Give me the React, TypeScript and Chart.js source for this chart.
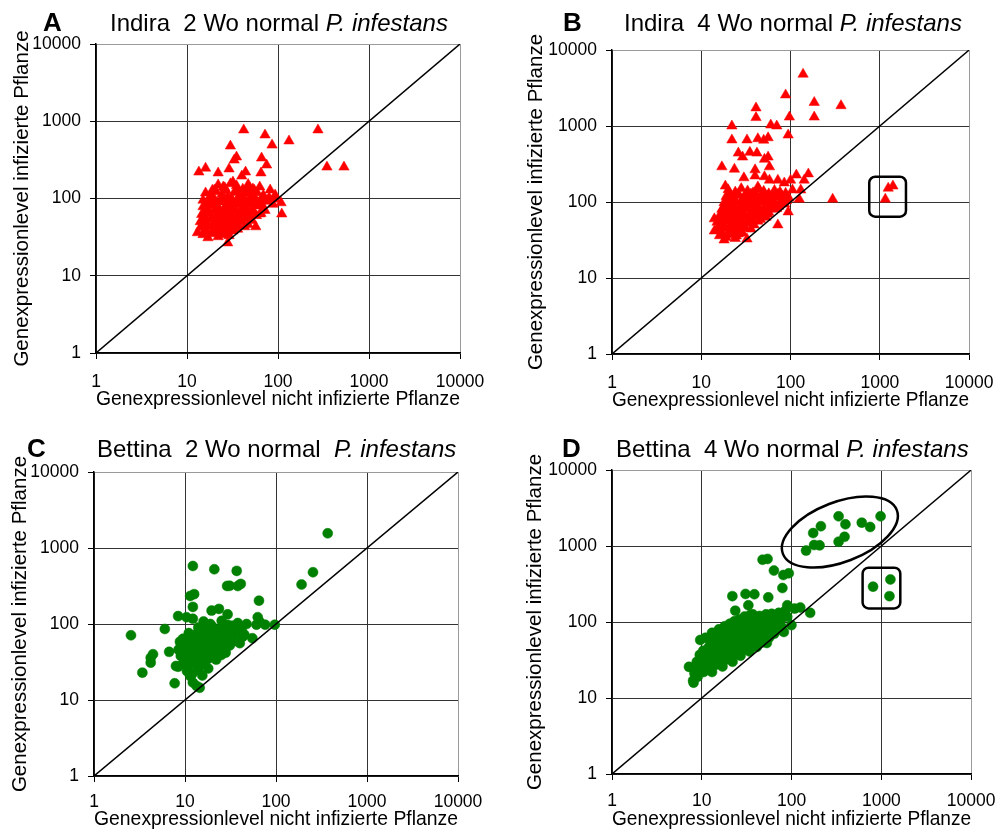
import React, { useEffect, useRef } from 'react';
import { Chart, registerables } from 'chart.js';

Chart.register(...registerables);

const FONT = '"Liberation Sans", Arial, sans-serif';

const tickValues = [1, 10, 100, 1000, 10000];
const xAxisTitle = 'Genexpressionlevel nicht infizierte Pflanze';
const yAxisTitle = 'Genexpressionlevel infizierte Pflanze';
const diagonalValues = [1, 10000];

// Panel A: Indira, 2 Wo
const indira2: [number, number][] = [
  [42, 771], [72, 664], [86, 491], [132, 555], [275, 771], [345, 255], [531, 255], [30, 477],
  [35, 344], [33, 314], [66, 334], [75, 271], [13.5, 220], [16, 247], [22, 214], [29, 241],
  [44, 220], [40, 195], [65, 214], [20, 129], [25, 141], [32, 163], [49, 137], [63, 141],
  [82, 129], [93, 111], [108, 88], [110, 63], [63, 63], [57, 43], [28, 26.6], [13, 36],
  [22, 150], [26, 138], [30, 155], [35, 146], [41, 132], [47, 152], [55, 128],
  [16, 118], [18, 108], [21, 122], [24, 112], [28, 104], [33, 120], [38, 109], [44, 116], [51, 106], [59, 119], [69, 110], [80, 102], [92, 98],
  [15, 95], [17, 88], [20, 98], [23, 90], [26, 96], [30, 86], [35, 93], [40, 99], [46, 89], [54, 94], [63, 87], [74, 92], [88, 84],
  [15, 78], [17, 72], [19, 81], [22, 75], [25, 70], [29, 79], [33, 74], [38, 68], [44, 77], [52, 72], [60, 80], [72, 70],
  [14.5, 62], [16, 57], [18, 65], [21, 59], [24, 64], [27, 55], [31, 61], [36, 58], [42, 63], [49, 56], [58, 60],
  [14, 50], [16, 46], [18, 53], [20, 48], [23, 51], [26, 45], [30, 52], [34, 47], [40, 50], [47, 46],
  [14, 42], [15.5, 38], [17.5, 43], [20, 39], [23, 41], [26, 37], [30, 42], [36, 40],
  [15, 34], [17, 31], [19, 35], [22, 32], [25, 34], [29, 33],
  [19, 128], [27, 126], [36, 130], [45, 124], [53, 133],
  [19, 102], [25, 104], [31, 100], [37, 103], [43, 97], [50, 101], [57, 98], [66, 100], [78, 96],
  [16, 84], [21, 85], [27, 83], [32, 82], [37, 84], [42, 85], [49, 83], [56, 85], [67, 82],
  [15.5, 68], [20, 70], [23, 67], [28, 68], [34, 66], [39, 71], [46, 67], [54, 66], [65, 64],
  [15, 55], [19, 56], [22, 54], [25, 57], [29, 56], [33, 54], [38, 53], [44, 55], [52, 52],
  [15, 46], [19, 44], [21, 45], [25, 47], [28, 44], [32, 45], [37, 44], [43, 43],
  [16, 40], [19, 37], [22, 36], [24, 38], [28, 37], [32, 38],
];

// Panel B: Indira, 4 Wo
const indira4: [number, number][] = [
  [138, 4800], [88, 2560], [184, 2040], [367, 1850], [184, 1310], [97, 1310], [41, 1730], [41, 1290],
  [60, 1030], [70, 1000], [22, 1000], [94, 760], [22, 655], [32.5, 655], [43, 680], [50, 650], [56, 700],
  [26, 440], [29, 390], [35, 450], [42, 440], [56, 390], [51, 365], [58, 290], [17, 290], [23.5, 270],
  [40, 265], [40, 220], [30, 208], [51, 215], [18.6, 162], [43, 158], [58, 194], [72, 194], [85, 178],
  [100, 194], [116, 226], [158, 234], [142, 194], [105, 144], [130, 144], [296, 109],
  [1150, 109], [1240, 152], [1400, 162],
  [14, 60], [14, 41.5], [18, 31.6], [24.7, 35.7], [32.5, 32.6], [72, 50], [94, 74], [125, 109],
  [20, 145], [24, 135], [28, 150], [33, 140], [38, 132], [44, 148], [50, 138], [57, 128], [66, 142], [76, 135], [88, 130],
  [19, 118], [22, 110], [26, 122], [30, 112], [35, 118], [40, 108], [46, 120], [53, 112], [61, 105], [70, 116], [82, 110], [96, 112],
  [18, 98], [21, 92], [24, 100], [28, 94], [32, 88], [37, 97], [42, 91], [48, 99], [55, 90], [63, 96], [74, 88], [86, 94],
  [17, 80], [19, 74], [22, 82], [25, 76], [29, 72], [33, 80], [38, 75], [43, 70], [49, 78], [57, 73], [66, 80],
  [16, 66], [18, 61], [21, 68], [24, 62], [27, 58], [31, 65], [35, 60], [40, 64], [46, 59], [53, 63],
  [15, 54], [17, 50], [20, 55], [23, 49], [26, 53], [30, 48], [34, 52], [39, 50],
  [15, 44], [17, 40], [19, 45], [22, 41], [25, 43], [29, 39],
  [16, 36], [19, 34], [21, 37], [24, 33],
  [21, 126], [26, 128], [31, 124], [36, 127], [42, 122], [48, 126], [55, 120], [63, 124], [72, 126], [80, 121],
  [20, 104], [24, 106], [28, 102], [33, 104], [38, 100], [44, 103], [50, 105], [57, 101], [66, 100], [77, 102], [90, 104],
  [18, 86], [20, 84], [23, 87], [27, 85], [31, 82], [35, 86], [40, 84], [45, 82], [52, 86], [60, 84], [70, 82],
  [17, 70], [20, 71], [23, 68], [26, 70], [30, 68], [35, 70], [41, 72], [47, 68], [55, 69],
  [16, 58], [19, 57], [22, 58], [25, 56], [28, 59], [33, 57], [37, 55], [43, 56],
  [16, 48], [18, 46], [21, 47], [24, 46], [27, 45], [31, 45], [36, 44],
  [17, 37], [20, 39], [23, 38], [26, 38],
];

// Panel C: Bettina, 2 Wo
const bettina2: [number, number][] = [
  [370, 1560], [255, 480], [191, 331], [12.2, 580], [21, 525], [37, 500], [29, 317], [31, 318],
  [41, 337], [38, 316], [11.4, 234], [12.6, 247], [12.2, 168], [65, 203], [19.6, 150], [23.6, 158],
  [29.4, 134], [8.4, 127], [10.4, 123], [12.2, 117], [63, 123], [66, 107], [38, 103], [47.5, 100],
  [61, 98], [76, 98], [97, 98], [43, 68], [55, 65], [6.0, 86], [2.55, 71], [6.7, 43], [4.45, 40],
  [4.2, 36], [4.2, 31], [3.4, 22.9], [7.7, 16.6], [13.4, 15.3], [8.4, 27.4], [14.5, 14.5],
  [25.3, 110], [29.6, 97], [17.3, 92], [8.8, 58.6], [7.95, 28], [11.4, 20.7], [12.2, 17],
  [14, 90], [17, 86], [20, 92], [23, 84], [27, 89], [31, 85], [36, 88], [42, 82],
  [11, 76], [13, 72], [15, 78], [18, 74], [21, 70], [24, 77], [28, 73], [32, 69], [37, 75], [45, 72],
  [9.5, 64], [11, 60], [13, 66], [15, 62], [17, 58], [20, 65], [23, 61], [26, 57], [30, 63], [34, 59], [40, 56],
  [9, 55], [10.5, 51], [12, 56], [14, 52], [16, 49], [18, 55], [21, 50], [24, 54], [27, 48], [31, 52],
  [8.5, 46], [10, 42], [11.5, 47], [13, 43], [15, 40], [17, 45], [19, 41], [22, 44], [25, 39], [28, 42],
  [9, 38], [10.5, 35], [12, 39], [13.5, 34], [15, 37], [17, 33], [19, 36], [22, 34],
  [9.5, 30], [11, 28], [12.5, 31], [14, 27], [16, 30], [18, 26],
  [10.5, 24], [12, 22], [14, 25], [15.5, 21],
  [19, 100], [16, 108], [33, 95],
];

// Panel D: Bettina, 4 Wo
const bettina4: [number, number][] = [
  [334, 2460], [212, 1820], [174, 1480], [398, 1930], [389, 1320], [334, 1140], [605, 2030], [750, 1780],
  [980, 2460], [145, 870], [178, 1030], [205, 1020],
  [808, 292], [1260, 363], [1230, 219],
  [47.5, 660], [54, 676], [63.6, 475], [81, 415], [93, 437], [79, 280], [21.9, 219], [30.7, 234],
  [38.5, 232], [55, 211], [33, 166], [89.5, 166], [125, 155], [161, 132], [23.6, 141], [37, 126],
  [79, 124], [89.5, 117], [99.6, 91], [82, 74], [53, 53], [9.6, 58], [8.1, 15.9], [7.2, 25.7],
  [8, 17], [8.3, 21], [7.8, 25],
  [9, 19], [9.3, 24], [8.8, 30], [9.5, 37],
  [10.5, 22], [10.2, 27], [10.8, 33], [10.4, 42],
  [12, 24], [11.7, 30], [12.3, 37], [12, 47], [12.5, 57],
  [14, 27], [13.6, 34], [14.3, 41], [13.9, 51], [14.4, 63],
  [16, 30], [16.4, 37], [15.8, 45], [16.2, 56], [16.6, 69],
  [18.5, 32], [18.2, 40], [18.9, 49], [18.4, 61], [19, 75],
  [21, 35], [21.5, 44], [20.7, 54], [21.3, 67], [21.8, 81],
  [24, 38], [24.6, 47], [23.6, 59], [24.3, 73], [24.8, 88],
  [28, 42], [27.4, 52], [28.5, 64], [28, 79], [28.8, 95],
  [32, 46], [32.7, 56], [31.5, 69], [32.2, 85], [33, 102],
  [37, 50], [36.3, 61], [37.6, 75], [36.8, 93], [37.4, 110],
  [43, 55], [42.2, 67], [43.8, 83], [42.6, 101],
  [50, 60], [49, 74], [51, 91], [50.5, 111],
  [58, 67], [57, 83], [59, 103],
  [67, 76], [66, 93], [68, 115],
  [77, 87], [76, 107],
  [13, 22], [17, 26], [22, 30], [27, 36], [34, 41], [41, 47], [48, 54], [56, 62], [64, 70],
  [11, 62], [13, 72], [15.5, 80], [18, 88], [20.5, 95], [23, 102], [26, 108], [30, 118], [35, 125],
  [44, 120], [52, 126], [60, 128], [72, 132], [85, 140], [108, 150],
];

// Annotations (data coordinates)
const indira4Boxes = [{ x0: 760, x1: 1960, y0: 64, y1: 215 }];
const bettina4Boxes = [{ x0: 618, x1: 1625, y0: 151, y1: 518 }];
const bettina4Ellipses = [{ cx: 345, cy: 1528 }];

type PanelCfg = {
  key: string;
  letter: string;
  titleMain: string;
  titleItalic: string;
  data: [number, number][];
  marker: 'triangle' | 'circle';
  color: string;
  boxes: { x0: number; x1: number; y0: number; y1: number }[];
  ellipses: { cx: number; cy: number }[];
  left: number; top: number; width: number; height: number;
  pad: { top: number; left: number; right: number; bottom: number };
  yAxisW: number; xAxisH: number; yTitlePad: number; xTickPad: number; xTitlePad: number;
  letterX: number; titleX: number; baseline: number;
};

const shapesPlugin = {
  id: 'shapes',
  afterDatasetsDraw(chart: any, _args: any, opts: any) {
    const { ctx } = chart;
    const xs = chart.scales.x;
    const ys = chart.scales.y;
    ctx.save();
    ctx.strokeStyle = '#000';
    ctx.lineWidth = 2.5;
    (opts.boxes || []).forEach((b: any) => {
      const l = xs.getPixelForValue(b.x0);
      const r = xs.getPixelForValue(b.x1);
      const t = ys.getPixelForValue(b.y1);
      const bt = ys.getPixelForValue(b.y0);
      ctx.beginPath();
      ctx.roundRect(l, t, r - l, bt - t, 6);
      ctx.stroke();
    });
    (opts.ellipses || []).forEach((e: any) => {
      const cx = xs.getPixelForValue(e.cx);
      const cy = ys.getPixelForValue(e.cy);
      ctx.beginPath();
      ctx.ellipse(cx, cy, 61, 30, (-21 * Math.PI) / 180, 0, Math.PI * 2);
      ctx.stroke();
    });
    ctx.restore();
  },
};

const panels: PanelCfg[] = [
  {
    key: 'A', letter: 'A', titleMain: 'Indira  2 Wo normal ', titleItalic: 'P. infestans',
    data: indira2, marker: 'triangle', color: '#ff0000', boxes: [], ellipses: [],
    left: 0, top: 0, width: 503, height: 418,
    pad: { top: 44, left: 0, right: 43, bottom: 5 },
    yAxisW: 96, xAxisH: 60, yTitlePad: 10, xTickPad: 12.5, xTitlePad: 1,
    letterX: 43, titleX: 110, baseline: 31,
  },
  {
    key: 'B', letter: 'B', titleMain: 'Indira  4 Wo normal ', titleItalic: 'P. infestans',
    data: indira4, marker: 'triangle', color: '#ff0000', boxes: indira4Boxes, ellipses: [],
    left: 516, top: 0, width: 490, height: 419,
    pad: { top: 50, left: 0, right: 32, bottom: 5 },
    yAxisW: 96, xAxisH: 60, yTitlePad: 8, xTickPad: 12.5, xTitlePad: 1,
    letterX: 563, titleX: 624, baseline: 31,
  },
  {
    key: 'C', letter: 'C', titleMain: 'Bettina  2 Wo normal  ', titleItalic: 'P. infestans',
    data: bettina2, marker: 'circle', color: '#008000', boxes: [], ellipses: [],
    left: 0, top: 420, width: 503, height: 417,
    pad: { top: 52, left: 0, right: 45, bottom: 1 },
    yAxisW: 94, xAxisH: 60, yTitlePad: 8, xTickPad: 9.5, xTitlePad: 4,
    letterX: 27, titleX: 97, baseline: 457,
  },
  {
    key: 'D', letter: 'D', titleMain: 'Bettina  4 Wo normal ', titleItalic: 'P. infestans',
    data: bettina4, marker: 'circle', color: '#008000', boxes: bettina4Boxes, ellipses: bettina4Ellipses,
    left: 516, top: 420, width: 490, height: 417,
    pad: { top: 50, left: 0, right: 29, bottom: 3 },
    yAxisW: 96, xAxisH: 60, yTitlePad: 7, xTickPad: 10.5, xTitlePad: 2,
    letterX: 562, titleX: 616, baseline: 457,
  },
];

const gridColor = (ctx: any) => (ctx.tick && ctx.tick.value === 10000 ? '#9a9a9a' : '#333');

function Panel({ cfg }: { cfg: PanelCfg }) {
  const ref = useRef<HTMLCanvasElement | null>(null);
  useEffect(() => {
    if (!ref.current) return;
    const chart = new Chart(ref.current, {
      type: 'scatter',
      data: {
        datasets: [
          {
            type: 'line',
            data: diagonalValues.map((v) => ({ x: v, y: v })),
            borderColor: '#000',
            borderWidth: 1.5,
            pointRadius: 0,
            fill: false,
            order: 0,
          } as any,
          {
            data: cfg.data.map(([x, y]) => ({ x, y })),
            pointStyle: cfg.marker,
            pointRadius: cfg.marker === 'triangle' ? 6 : 5,
            backgroundColor: cfg.color,
            borderColor: cfg.color,
            borderWidth: 0.5,
            order: 1,
          },
        ],
      },
      options: {
        animation: false,
        responsive: false,
        layout: { padding: cfg.pad },
        plugins: {
          legend: { display: false },
          tooltip: { enabled: false },
          shapes: { boxes: cfg.boxes, ellipses: cfg.ellipses },
        } as any,
        scales: {
          x: {
            type: 'logarithmic',
            min: 1,
            max: 10000,
            afterBuildTicks: (axis: any) => {
              axis.ticks = tickValues.map((v) => ({ value: v }));
            },
            afterFit: (s: any) => {
              s.height = cfg.xAxisH;
            },
            ticks: {
              callback: (v: any) => String(v),
              font: { family: FONT, size: 17.5 },
              color: '#000',
              padding: cfg.xTickPad,
              autoSkip: false,
              maxRotation: 0,
              minRotation: 0,
            },
            grid: { color: gridColor, lineWidth: 1, tickLength: 6, tickColor: '#000' },
            border: { color: '#000', width: 1.5 },
            title: {
              display: true,
              text: xAxisTitle,
              font: { family: FONT, size: 20.8 },
              color: '#000',
              padding: { top: 0, bottom: cfg.xTitlePad },
            },
          },
          y: {
            type: 'logarithmic',
            min: 1,
            max: 10000,
            afterBuildTicks: (axis: any) => {
              axis.ticks = tickValues.map((v) => ({ value: v }));
            },
            afterFit: (s: any) => {
              s.width = cfg.yAxisW;
            },
            ticks: {
              callback: (v: any) => String(v),
              font: { family: FONT, size: 17.5 },
              color: '#000',
              padding: 9,
              autoSkip: false,
            },
            grid: { color: gridColor, lineWidth: 1, tickLength: 6, tickColor: '#000' },
            border: { color: '#000', width: 1.5 },
            title: {
              display: true,
              text: yAxisTitle,
              font: { family: FONT, size: 20.5 },
              color: '#000',
              padding: { top: cfg.yTitlePad, bottom: 0 },
            },
          },
        },
      } as any,
      plugins: [shapesPlugin as any],
    });
    return () => chart.destroy();
  }, [cfg]);

  return (
    <div style={{ position: 'absolute', left: cfg.left, top: cfg.top, width: cfg.width, height: cfg.height }}>
      <canvas ref={ref} width={cfg.width} height={cfg.height} style={{ width: cfg.width, height: cfg.height, display: 'block' }} />
    </div>
  );
}

function PanelTitle({ cfg }: { cfg: PanelCfg }) {
  const letterSize = 26;
  const titleSize = 24;
  return (
    <>
      <div
        style={{
          position: 'absolute', left: cfg.letterX, top: cfg.baseline - 0.8465 * letterSize,
          fontFamily: FONT, fontWeight: 'bold', fontSize: letterSize, lineHeight: `${letterSize}px`, whiteSpace: 'pre',
        }}
      >
        {cfg.letter}
      </div>
      <div
        style={{
          position: 'absolute', left: cfg.titleX, top: cfg.baseline - 0.8465 * titleSize,
          fontFamily: FONT, fontSize: titleSize, lineHeight: `${titleSize}px`, whiteSpace: 'pre',
        }}
      >
        {cfg.titleMain}
        <i>{cfg.titleItalic}</i>
      </div>
    </>
  );
}

export default function App() {
  return (
    <div style={{ position: 'absolute', left: 0, top: 0, width: 1006, height: 837, background: '#fff', overflow: 'hidden' }}>
      {panels.map((p) => (
        <Panel key={p.key} cfg={p} />
      ))}
      {panels.map((p) => (
        <PanelTitle key={'t' + p.key} cfg={p} />
      ))}
    </div>
  );
}
